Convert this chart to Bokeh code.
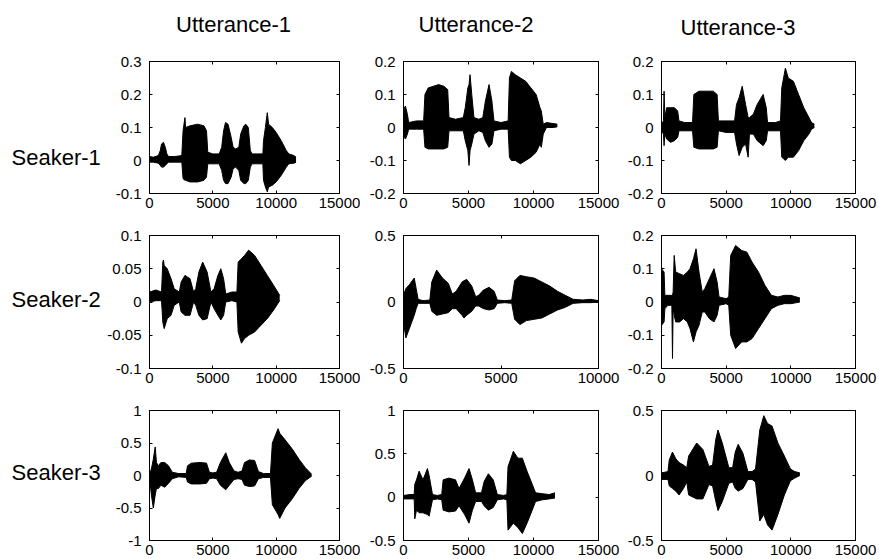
from bokeh.plotting import figure
from bokeh.layouts import gridplot
from bokeh.models import Range1d, FixedTicker, PrintfTickFormatter, LinearAxis
from bokeh.core.properties import value
from bokeh.embed import file_html
from bokeh.resources import INLINE

# ---------------- data ----------------
col_titles = ["Utterance-1", "Utterance-2", "Utterance-3"]
row_labels = ["Seaker-1", "Seaker-2", "Seaker-3"]

x_ticks_15k = [0, 5000, 10000, 15000]
x_ticks_10k = [0, 5000, 10000]

# y ranges per panel (row = speaker, column = utterance)
y_range_s1 = [(-0.1, 0.3), (-0.2, 0.2), (-0.2, 0.2)]
y_range_s2 = [(-0.1, 0.1), (-0.5, 0.5), (-0.2, 0.2)]
y_range_s3 = [(-1.0, 1.0), (-0.5, 1.0), (-0.5, 0.5)]

y_ticks_s1 = [[-0.1, 0, 0.1, 0.2, 0.3], [-0.2, -0.1, 0, 0.1, 0.2], [-0.2, -0.1, 0, 0.1, 0.2]]
y_ticks_s2 = [[-0.1, -0.05, 0, 0.05, 0.1], [-0.5, 0, 0.5], [-0.2, -0.1, 0, 0.1, 0.2]]
y_ticks_s3 = [[-1, -0.5, 0, 0.5, 1], [-0.5, 0, 0.5, 1], [-0.5, 0, 0.5]]

x_max_s1 = [15000, 15000, 15000]
x_max_s2 = [15000, 10000, 15000]
x_max_s3 = [15000, 15000, 15000]

# waveform envelopes: (sample index, upper amplitude, lower amplitude)
s1_u1 = [(0, 0.012, -0.005), (300, 0.01, -0.005), (700, 0.015, -0.008), (850, 0.03, -0.015),
         (950, 0.05, -0.02), (1100, 0.055, -0.02), (1250, 0.04, -0.015), (1370, 0.02, -0.01),
         (1500, 0.012, -0.005), (2000, 0.012, -0.005), (2550, 0.015, -0.005), (2650, 0.09, -0.055),
         (2800, 0.13, -0.06), (2850, 0.1, -0.06), (3200, 0.105, -0.065), (3800, 0.11, -0.065),
         (4300, 0.105, -0.06), (4500, 0.09, -0.05), (4600, 0.025, -0.01), (5000, 0.02, -0.01),
         (5500, 0.02, -0.01), (5700, 0.04, -0.03), (5850, 0.09, -0.06), (6000, 0.115, -0.07),
         (6200, 0.11, -0.07), (6450, 0.07, -0.05), (6600, 0.04, -0.025), (6800, 0.035, -0.02),
         (7050, 0.04, -0.03), (7200, 0.08, -0.06), (7450, 0.105, -0.07), (7600, 0.11, -0.07),
         (7800, 0.1, -0.06), (7960, 0.03, -0.02), (8100, 0.02, -0.01), (8500, 0.02, -0.01),
         (8950, 0.02, -0.01), (9000, 0.06, -0.06), (9150, 0.1, -0.08), (9300, 0.145, -0.095),
         (9400, 0.11, -0.08), (9700, 0.1, -0.075), (10000, 0.085, -0.065), (10400, 0.06, -0.045),
         (10800, 0.03, -0.02), (11000, 0.02, -0.01), (11400, 0.015, -0.008), (11570, 0.01, -0.005)]

s1_u2 = [(0, 0.03, -0.02), (60, 0.06, -0.03), (150, 0.065, -0.035), (300, 0.04, -0.02),
         (400, 0.015, -0.005), (1000, 0.02, -0.005), (1550, 0.02, -0.005), (1650, 0.1, -0.06),
         (1900, 0.12, -0.065), (2300, 0.125, -0.065), (2700, 0.13, -0.065), (3100, 0.125, -0.065),
         (3400, 0.115, -0.06), (3500, 0.03, -0.01), (4000, 0.025, -0.01), (4600, 0.03, -0.01),
         (4750, 0.06, -0.04), (4950, 0.12, -0.07), (5040, 0.13, -0.115), (5120, 0.16, -0.07),
         (5250, 0.1, -0.05), (5420, 0.03, -0.02), (5800, 0.025, -0.01), (6100, 0.03, -0.015),
         (6300, 0.08, -0.04), (6580, 0.13, -0.06), (6800, 0.08, -0.05), (6960, 0.02, -0.01),
         (7500, 0.015, -0.005), (8050, 0.02, -0.005), (8150, 0.15, -0.09), (8300, 0.17, -0.1),
         (8600, 0.16, -0.1), (9000, 0.15, -0.11), (9400, 0.14, -0.1), (9800, 0.12, -0.09),
         (10200, 0.1, -0.075), (10500, 0.06, -0.05), (10600, 0.05, -0.06), (10750, 0.01, -0.02),
         (11000, 0.015, 0.0), (11500, 0.012, 0.0), (11830, 0.01, 0.002)]

s1_u3 = [(0, 0.01, -0.01), (150, 0.02, -0.02), (200, 0.11, -0.055), (260, 0.03, -0.02),
         (400, 0.06, -0.035), (700, 0.06, -0.045), (1000, 0.06, -0.04), (1250, 0.05, -0.03),
         (1350, 0.02, -0.01), (1800, 0.015, -0.01), (2400, 0.015, -0.01), (2500, 0.1, -0.06),
         (2900, 0.11, -0.065), (3500, 0.11, -0.065), (4000, 0.11, -0.065), (4300, 0.1, -0.06),
         (4400, 0.02, -0.01), (5000, 0.02, -0.015), (5650, 0.02, -0.015), (5800, 0.07, -0.05),
         (6000, 0.09, -0.085), (6240, 0.125, -0.06), (6500, 0.07, -0.05), (6700, 0.03, -0.09),
         (6800, 0.03, -0.02), (7100, 0.04, -0.02), (7400, 0.07, -0.04), (7860, 0.1, -0.055),
         (8100, 0.06, -0.04), (8200, 0.015, -0.01), (8800, 0.015, -0.01), (9200, 0.02, -0.01),
         (9300, 0.12, -0.09), (9580, 0.18, -0.1), (9800, 0.15, -0.09), (10200, 0.14, -0.09),
         (10600, 0.1, -0.07), (11000, 0.06, -0.04), (11400, 0.03, -0.02), (11600, 0.015, -0.005),
         (11820, 0.01, 0.0)]

s2_u1 = [(0, 0.015, 0.0), (500, 0.018, 0.002), (950, 0.015, 0.002), (1050, 0.06, -0.03),
         (1100, 0.063, -0.035), (1160, 0.055, -0.04), (1400, 0.05, -0.025), (1700, 0.035, -0.02),
         (1950, 0.02, -0.005), (2350, 0.015, 0.0), (2500, 0.03, -0.015), (2800, 0.04, -0.02),
         (3200, 0.035, -0.02), (3480, 0.015, 0.0), (3650, 0.02, -0.005), (3900, 0.045, -0.02),
         (4200, 0.06, -0.027), (4550, 0.045, -0.025), (4850, 0.015, 0.0), (5100, 0.02, -0.01),
         (5400, 0.04, -0.02), (5630, 0.05, -0.027), (5850, 0.035, -0.02), (6020, 0.012, 0.0),
         (6500, 0.015, 0.002), (6900, 0.015, 0.0), (7000, 0.06, -0.045), (7260, 0.065, -0.062),
         (7500, 0.07, -0.055), (7830, 0.078, -0.05), (8300, 0.07, -0.045), (8800, 0.055, -0.035),
         (9300, 0.04, -0.025), (9800, 0.025, -0.012), (10280, 0.01, 0.002)]

s2_u2 = [(0, 0.05, -0.15), (120, 0.1, -0.27), (300, 0.13, -0.2), (550, 0.18, -0.1),
         (650, 0.1, -0.05), (750, 0.02, -0.01), (1000, 0.01, -0.01), (1350, 0.015, -0.01),
         (1450, 0.15, -0.07), (1700, 0.24, -0.1), (2000, 0.18, -0.09), (2300, 0.14, -0.08),
         (2500, 0.06, -0.05), (2700, 0.08, -0.05), (3000, 0.15, -0.1), (3100, 0.16, -0.12),
         (3240, 0.17, -0.1), (3500, 0.12, -0.07), (3700, 0.04, -0.03), (3850, 0.05, -0.03),
         (4100, 0.09, -0.05), (4390, 0.11, -0.06), (4650, 0.08, -0.05), (4810, 0.015, -0.01),
         (5200, 0.01, -0.005), (5550, 0.015, -0.01), (5700, 0.16, -0.13), (5970, 0.2, -0.17),
         (6300, 0.19, -0.14), (6700, 0.18, -0.13), (7100, 0.15, -0.12), (7500, 0.12, -0.09),
         (7900, 0.08, -0.06), (8300, 0.05, -0.04), (8700, 0.02, -0.01), (9200, 0.015, -0.005),
         (9600, 0.02, -0.005), (10000, 0.01, 0.0)]

s2_u3 = [(0, 0.1, -0.07), (200, 0.09, -0.06), (260, 0.02, -0.02), (500, 0.02, -0.01),
         (800, 0.02, -0.01), (850, 0.02, -0.17), (900, 0.03, -0.02), (980, 0.14, -0.04),
         (1100, 0.09, -0.06), (1400, 0.085, -0.06), (1700, 0.08, -0.05), (2000, 0.09, -0.06),
         (2200, 0.1, -0.08), (2470, 0.13, -0.12), (2670, 0.16, -0.09), (2900, 0.09, -0.07),
         (3150, 0.03, -0.03), (3350, 0.04, -0.03), (3700, 0.07, -0.05), (4060, 0.1, -0.06),
         (4300, 0.06, -0.04), (4450, 0.015, -0.01), (5000, 0.01, -0.005), (5200, 0.015, -0.01),
         (5350, 0.14, -0.1), (5730, 0.17, -0.14), (6200, 0.155, -0.12), (6600, 0.15, -0.12),
         (7000, 0.12, -0.11), (7500, 0.09, -0.08), (8000, 0.05, -0.05), (8500, 0.02, -0.02),
         (9000, 0.015, -0.01), (9500, 0.02, -0.005), (10000, 0.02, -0.005), (10700, 0.012, 0.0)]

s3_u1 = [(0, 0.02, -0.02), (150, 0.1, -0.3), (300, 0.25, -0.5), (450, 0.44, -0.3),
         (550, 0.2, -0.2), (700, 0.15, -0.2), (900, 0.2, -0.15), (1200, 0.2, -0.18),
         (1500, 0.15, -0.12), (1800, 0.05, -0.05), (2300, 0.03, -0.02), (2900, 0.03, -0.03),
         (3000, 0.15, -0.1), (3300, 0.19, -0.13), (4000, 0.2, -0.13), (4500, 0.19, -0.12),
         (4730, 0.05, -0.05), (5000, 0.04, -0.04), (5300, 0.05, -0.05), (5600, 0.2, -0.15),
         (6020, 0.35, -0.22), (6300, 0.2, -0.15), (6670, 0.07, -0.06), (7000, 0.05, -0.05),
         (7300, 0.07, -0.06), (7500, 0.2, -0.15), (7900, 0.24, -0.17), (8300, 0.23, -0.16),
         (8600, 0.06, -0.05), (9000, 0.03, -0.03), (9550, 0.03, -0.03), (9700, 0.5, -0.45),
         (10150, 0.72, -0.6), (10280, 0.65, -0.66), (10700, 0.55, -0.5), (11300, 0.4, -0.35),
         (11800, 0.25, -0.2), (12300, 0.12, -0.08), (12800, 0.02, -0.01)]

s3_u2 = [(0, 0.02, -0.02), (500, 0.03, -0.02), (820, 0.03, -0.02), (870, 0.15, -0.25),
         (1000, 0.2, -0.15), (1200, 0.3, -0.18), (1500, 0.2, -0.18), (1840, 0.33, -0.2),
         (1970, 0.25, -0.22), (2230, 0.03, -0.03), (2600, 0.02, -0.02), (2940, 0.03, -0.03),
         (3050, 0.2, -0.15), (3500, 0.22, -0.17), (4000, 0.2, -0.16), (4270, 0.1, -0.1),
         (4700, 0.22, -0.2), (5040, 0.33, -0.3), (5300, 0.2, -0.15), (5550, 0.05, -0.05),
         (6000, 0.05, -0.05), (6200, 0.18, -0.1), (6530, 0.27, -0.15), (6900, 0.2, -0.12),
         (7220, 0.03, -0.03), (7700, 0.02, -0.02), (7950, 0.03, -0.03), (8040, 0.35, -0.38),
         (8450, 0.53, -0.3), (8800, 0.45, -0.35), (9140, 0.45, -0.42), (9500, 0.3, -0.3),
         (9900, 0.15, -0.15), (10160, 0.05, -0.05), (10700, 0.04, -0.03), (11200, 0.03, -0.02),
         (11650, 0.05, -0.01)]

s3_u3 = [(0, 0.02, -0.03), (500, 0.03, -0.03), (600, 0.12, -0.08), (850, 0.18, -0.1),
         (1100, 0.13, -0.12), (1360, 0.1, -0.15), (1700, 0.08, -0.1), (1950, 0.06, -0.05),
         (2100, 0.15, -0.15), (2720, 0.25, -0.18), (3200, 0.2, -0.18), (3670, 0.07, -0.07),
         (3950, 0.08, -0.08), (4200, 0.28, -0.2), (4370, 0.35, -0.27), (4700, 0.25, -0.2),
         (5210, 0.06, -0.06), (5500, 0.06, -0.05), (5700, 0.18, -0.1), (5930, 0.24, -0.12),
         (6300, 0.17, -0.1), (6680, 0.03, -0.03), (7000, 0.03, -0.03), (7270, 0.05, -0.05),
         (7600, 0.35, -0.35), (7910, 0.46, -0.3), (8200, 0.4, -0.38), (8550, 0.38, -0.42),
         (9000, 0.25, -0.3), (9500, 0.15, -0.15), (9970, 0.05, -0.04), (10300, 0.03, -0.02),
         (10700, 0.02, 0.0)]

waves = [[s1_u1, s1_u2, s1_u3], [s2_u1, s2_u2, s2_u3], [s3_u1, s3_u2, s3_u3]]
y_ranges = [y_range_s1, y_range_s2, y_range_s3]
y_ticks = [y_ticks_s1, y_ticks_s2, y_ticks_s3]
x_maxes = [x_max_s1, x_max_s2, x_max_s3]

# ---------------- layout (pixels) ----------------
FONT = "Liberation Sans"
LABEL_COL_W = 104
FRAME_W = [193, 195, 194]
BORDER_L = [42, 43, 41]
BORDER_R = [21, 22, 24]
TITLE_ROW_H = 50
FRAME_H = [132, 133, 130]
BORDER_T = [11, 21, 21]
BORDER_B = [21, 21, 19]

TITLE_LX = [27, 15, 19]         # title left edge, px from the panel's left edge
TITLE_CY = [26, 26, 23]         # title centre, px above bottom of title row
ROWLAB_X = 11                   # row label start, px from page left
ROWLAB_DY = -3                  # row label nudge (screen px, negative = up)


def style_axis(ax, ticks, show_labels):
    ax.ticker = FixedTicker(ticks=ticks)
    ax.formatter = PrintfTickFormatter(format="%g")
    ax.axis_line_color = "black"
    ax.major_tick_line_color = "black"
    ax.major_tick_in = 3
    ax.major_tick_out = 0
    ax.minor_tick_line_color = None
    ax.major_label_text_font = FONT
    if show_labels:
        ax.major_label_text_color = "black"
        ax.major_label_text_font_size = "15px"
    else:
        ax.major_label_text_color = None
        ax.major_label_text_font_size = "1px"
        ax.major_label_standoff = 0


def blank_fig(w, h, xr, yr, bl=0, br=0, bt=0, bb=0):
    f = figure(width=w, height=h, x_range=xr, y_range=yr,
               x_axis_type=None, y_axis_type=None,
               output_backend="svg", toolbar_location=None,
               min_border_left=bl, min_border_right=br,
               min_border_top=bt, min_border_bottom=bb)
    f.outline_line_color = None
    f.grid.visible = False
    f.background_fill_color = "white"
    f.border_fill_color = "white"
    return f


grid_rows = []

# column titles (their frames line up with the panels below them)
title_row = [None]
for c in range(3):
    w = BORDER_L[c] + FRAME_W[c] + BORDER_R[c]
    t = blank_fig(w, TITLE_ROW_H, Range1d(0, FRAME_W[c]), Range1d(0, TITLE_ROW_H),
                  bl=BORDER_L[c], br=BORDER_R[c])
    t.text(x=[TITLE_LX[c]], y=[TITLE_CY[c]], text=[col_titles[c]],
           text_font=value(FONT), text_font_size=value("22px"),
           text_align="left", text_baseline="middle", text_color="black")
    title_row.append(t)
grid_rows.append(title_row)

for r in range(3):
    row = []
    # row label, centred on the zero line of the row
    ylo0, yhi0 = y_ranges[r][0]
    lab = blank_fig(LABEL_COL_W, BORDER_T[r] + FRAME_H[r] + BORDER_B[r],
                    Range1d(0, LABEL_COL_W), Range1d(ylo0, yhi0),
                    bt=BORDER_T[r], bb=BORDER_B[r])
    lab.text(x=[ROWLAB_X], y=[0], text=[row_labels[r]], y_offset=ROWLAB_DY,
             text_font=value(FONT), text_font_size=value("22px"),
             text_align="left", text_baseline="middle", text_color="black")
    row.append(lab)

    for c in range(3):
        xmax = x_maxes[r][c]
        ylo, yhi = y_ranges[r][c]
        p = figure(width=BORDER_L[c] + FRAME_W[c] + BORDER_R[c],
                   height=BORDER_T[r] + FRAME_H[r] + BORDER_B[r],
                   x_range=Range1d(0, xmax), y_range=Range1d(ylo, yhi),
                   output_backend="svg", toolbar_location=None,
                   min_border_left=BORDER_L[c], min_border_right=BORDER_R[c],
                   min_border_top=BORDER_T[r], min_border_bottom=BORDER_B[r])
        p.grid.visible = False
        p.outline_line_color = "black"
        p.background_fill_color = "white"
        p.border_fill_color = "white"

        xt = x_ticks_15k if xmax == 15000 else x_ticks_10k
        style_axis(p.xaxis[0], xt, True)
        p.xaxis[0].major_label_standoff = 4
        style_axis(p.yaxis[0], y_ticks[r][c], True)
        p.yaxis[0].major_label_standoff = 8

        top = LinearAxis()
        style_axis(top, xt, False)
        p.add_layout(top, "above")
        right = LinearAxis()
        style_axis(right, y_ticks[r][c], False)
        p.add_layout(right, "right")

        pts = waves[r][c]
        xs = [t[0] for t in pts]
        up = [t[1] for t in pts]
        lo = [t[2] for t in pts]
        p.varea(x=xs, y1=lo, y2=up, fill_color="black")
        p.line(xs, up, line_color="black", line_width=1)
        p.line(xs, lo, line_color="black", line_width=1)
        row.append(p)
    grid_rows.append(row)

grid = gridplot(grid_rows, toolbar_location=None)
open("out.html", "w").write(file_html(grid, INLINE))
